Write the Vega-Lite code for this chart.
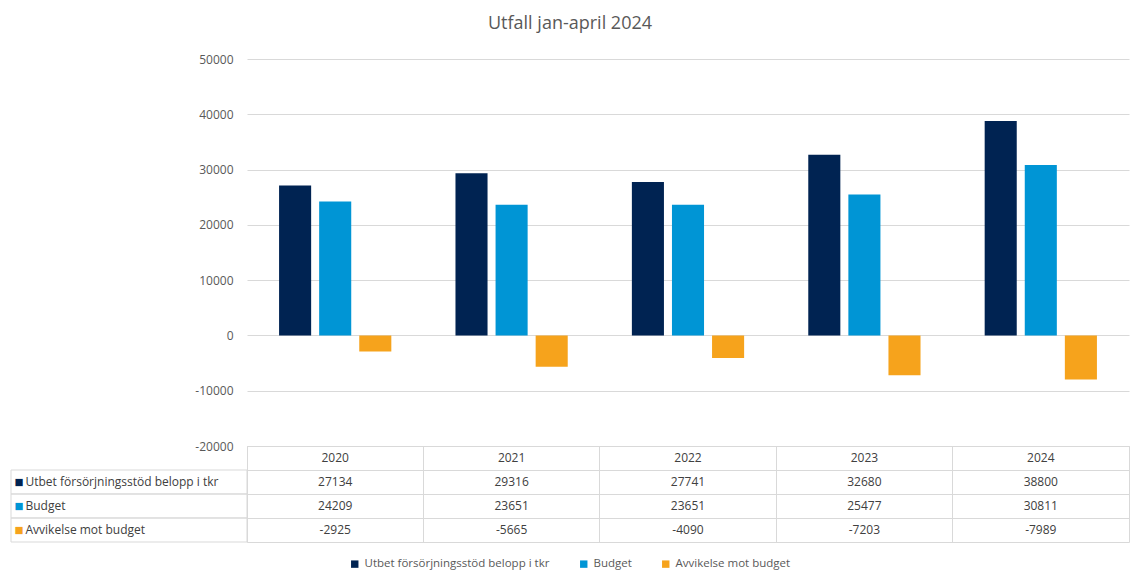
{
  "$schema": "https://vega.github.io/schema/vega-lite/v6.json",
  "padding": {"top": 15, "left": 10, "right": 4, "bottom": 0},
  "background": "white",
  "title": {"text": "Utfall jan-april 2024", "fontSize": 18, "font": "Open Sans", "color": "#595959", "fontWeight": "normal", "anchor": "middle", "offset": 20},
  "data": {"values": [
    {"year": "2020", "series": "Utbet försörjningsstöd belopp i tkr", "value": 27134},
    {"year": "2021", "series": "Utbet försörjningsstöd belopp i tkr", "value": 29316},
    {"year": "2022", "series": "Utbet försörjningsstöd belopp i tkr", "value": 27741},
    {"year": "2023", "series": "Utbet försörjningsstöd belopp i tkr", "value": 32680},
    {"year": "2024", "series": "Utbet försörjningsstöd belopp i tkr", "value": 38800},
    {"year": "2020", "series": "Budget", "value": 24209},
    {"year": "2021", "series": "Budget", "value": 23651},
    {"year": "2022", "series": "Budget", "value": 23651},
    {"year": "2023", "series": "Budget", "value": 25477},
    {"year": "2024", "series": "Budget", "value": 30811},
    {"year": "2020", "series": "Avvikelse mot budget", "value": -2925},
    {"year": "2021", "series": "Avvikelse mot budget", "value": -5665},
    {"year": "2022", "series": "Avvikelse mot budget", "value": -4090},
    {"year": "2023", "series": "Avvikelse mot budget", "value": -7203},
    {"year": "2024", "series": "Avvikelse mot budget", "value": -7989}
  ]},
  "columns": 2,
  "spacing": 0,
  "bounds": "flush",
  "concat": [
    {
      "width": 236, "height": 387,
      "transform": [{"filter": "datum.year === '2020' && datum.series === 'Budget'"}],
      "mark": {"type": "text"},
      "encoding": {
        "x": {"datum": "a", "type": "nominal", "scale": {"type": "band", "paddingInner": 0, "paddingOuter": 0}, "axis": null},
        "text": {"value": ""}
      }
    },
    {
      "width": 882, "height": 387,
      "mark": {"type": "bar"},
      "encoding": {
        "x": {"field": "year", "type": "nominal", "scale": {"paddingInner": 0, "paddingOuter": 0}, "axis": null},
        "xOffset": {"field": "series", "type": "nominal", "sort": ["Utbet försörjningsstöd belopp i tkr", "Budget", "Avvikelse mot budget"], "scale": {"paddingInner": 0.2, "paddingOuter": 0.8}},
        "y": {"field": "value", "type": "quantitative",
          "scale": {"domain": [-20000, 50000], "nice": false, "zero": false},
          "axis": {"values": [-20000, -10000, 0, 10000, 20000, 30000, 40000, 50000], "title": null, "domain": false, "ticks": false, "labelPadding": 14, "grid": true, "gridColor": "#d9d9d9", "labelExpr": "'' + datum.value"}},
        "color": {"field": "series", "type": "nominal",
          "sort": ["Utbet försörjningsstöd belopp i tkr", "Budget", "Avvikelse mot budget"],
          "scale": {"domain": ["Utbet försörjningsstöd belopp i tkr", "Budget", "Avvikelse mot budget"], "range": ["#002352", "#0095d5", "#f6a31c"]},
          "legend": {"title": null, "orient": "bottom", "direction": "horizontal", "symbolType": "square", "symbolSize": 55, "labelFontSize": 11.5, "labelColor": "#595959", "columnPadding": 28, "symbolStrokeWidth": 0, "labelLimit": 400, "offset": 15, "padding": 0, "rowPadding": 0}}
      }
    },
    {
      "width": 236, "height": 96,
      "transform": [{"filter": "datum.year === '2020'"}],
      "encoding": {
        "x": {"datum": "a", "type": "nominal", "scale": {"type": "band", "paddingInner": 0, "paddingOuter": 0}, "axis": null}
      },
      "layer": [
        {
          "mark": {"type": "rect", "fillOpacity": 0, "stroke": "#d9d9d9", "strokeWidth": 1},
          "encoding": {
            "y": {"field": "series", "type": "nominal",
              "scale": {"type": "band", "domain": ["hdr", "Utbet försörjningsstöd belopp i tkr", "Budget", "Avvikelse mot budget"], "paddingInner": 0, "paddingOuter": 0},
              "axis": {"orient": "left", "title": null, "domain": false, "ticks": false, "tickSize": 0, "labelPadding": -12, "labelAlign": "right", "labelFontSize": 15, "zindex": 1,
                "labelExpr": "datum.value === 'hdr' ? '' : '■'",
                "labelColor": {"condition": [{"test": "datum.value === 'Budget'", "value": "#0095d5"}, {"test": "datum.value === 'Avvikelse mot budget'", "value": "#f6a31c"}], "value": "#002352"}}}
          }
        },
        {
          "mark": {"type": "rect", "opacity": 0},
          "encoding": {
            "y": {"field": "series", "type": "nominal",
              "scale": {"type": "band", "domain": ["hdr", "Utbet försörjningsstöd belopp i tkr", "Budget", "Avvikelse mot budget"], "paddingInner": 0, "paddingOuter": 0},
              "axis": {"orient": "right", "title": null, "domain": false, "ticks": false, "tickSize": 0, "labelPadding": -222, "labelAlign": "left", "zindex": 1, "labelColor": "#404040", "labelLimit": 400,
                "labelExpr": "datum.value === 'hdr' ? '' : datum.value"}}
          }
        }
      ],
      "resolve": {"axis": {"y": "independent"}}
    },
    {
      "width": 882, "height": 96,
      "view": {"stroke": "#d9d9d9"},
      "encoding": {
        "x": {"field": "year", "type": "nominal", "scale": {"type": "band", "paddingInner": 0, "paddingOuter": 0},
          "axis": {"orient": "top", "title": null, "grid": true, "bandPosition": 0, "gridColor": "#d9d9d9", "labels": false, "ticks": false, "domain": false}}
      },
      "layer": [
        {
          "mark": {"type": "text", "fontSize": 12, "fill": "#404040"},
          "encoding": {
            "y": {"field": "series", "type": "nominal",
              "scale": {"type": "band", "domain": ["hdr", "Utbet försörjningsstöd belopp i tkr", "Budget", "Avvikelse mot budget"], "paddingInner": 0, "paddingOuter": 0},
              "axis": {"title": null, "grid": true, "bandPosition": 0, "gridColor": "#d9d9d9", "labels": false, "ticks": false, "domain": false}},
            "text": {"field": "value", "type": "nominal"}
          }
        },
        {
          "transform": [{"filter": "datum.series === 'Budget'"}],
          "mark": {"type": "text", "fontSize": 12, "fill": "#404040"},
          "encoding": {
            "y": {"datum": "hdr", "type": "nominal"},
            "text": {"field": "year", "type": "nominal"}
          }
        }
      ]
    }
  ],
  "config": {
    "font": "Open Sans",
    "view": {"stroke": null},
    "axis": {"labelColor": "#595959", "labelFont": "Open Sans", "labelFontSize": 12},
    "legend": {"labelFont": "Open Sans", "layout": {"bottom": {"anchor": "middle"}}}
  }
}
